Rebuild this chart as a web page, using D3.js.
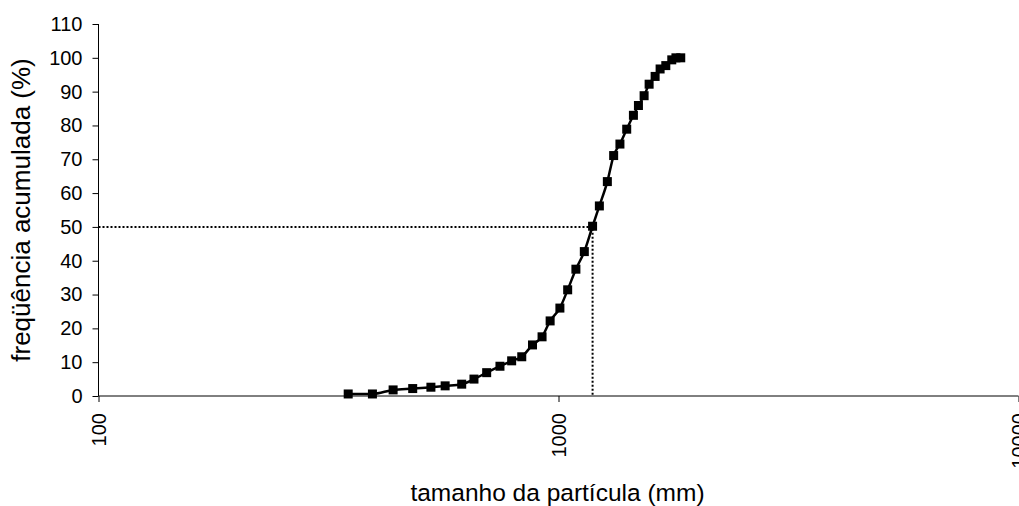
<!DOCTYPE html>
<html>
<head>
<meta charset="utf-8">
<script src="https://cdn.jsdelivr.net/npm/d3@7"></script>
<style>
  html, body { margin: 0; padding: 0; background: #fff; }
  svg { display: block; font-family: "Liberation Sans", Arial, sans-serif; }
</style>
</head>
<body>
<svg id="chart" width="1019" height="506"></svg>
<script>
// Particle size (mm) and cumulative frequency (%)
const sizes = [349, 394, 437, 482, 528, 567, 616, 655, 698, 746, 791, 832, 878, 921, 959,
  1007, 1047, 1091, 1138, 1186, 1227, 1277, 1318, 1360, 1407, 1455, 1492, 1535, 1574,
  1622, 1663, 1711, 1763, 1800, 1844];
const cumFreq = [0.6, 0.6, 1.8, 2.2, 2.6, 3.0, 3.5, 5.0, 6.9, 8.8, 10.4, 11.6, 15.1, 17.5, 22.2,
  26.0, 31.4, 37.5, 42.7, 50.2, 56.2, 63.4, 71.1, 74.5, 78.9, 83.0, 85.9, 88.8, 92.2,
  94.5, 96.7, 97.7, 99.4, 100, 100];
// Median size (D50) reference
const medianSize = [1186];
const medianFreq = [50];
const xTicks = [100, 1000, 10000];
const yTicks = [0, 10, 20, 30, 40, 50, 60, 70, 80, 90, 100, 110];
const xTitle = "tamanho da partícula (mm)";
const yTitle = "freqüência acumulada (%)";

const svg = d3.select("#chart");
const plotLeft = 98.5, plotRight = 1018.5, plotTop = 24, plotBottom = 396;

const x = d3.scaleLog().domain([100, 10000]).range([plotLeft, plotRight]);
const y = d3.scaleLinear().domain([0, 110]).range([plotBottom, plotTop]);

// Y axis
const yAxis = svg.append("g")
  .attr("transform", `translate(${plotLeft},0)`)
  .call(d3.axisLeft(y).tickValues(yTicks).tickSize(6).tickPadding(10).tickFormat(d3.format("d")));
yAxis.selectAll("text").attr("font-size", 20).attr("fill", "#000").attr("font-family", "Liberation Sans, Arial, sans-serif");
yAxis.selectAll("line, path").attr("stroke", "#000").attr("stroke-width", 1);
yAxis.select("path.domain").attr("d", `M0,${plotTop}V${plotBottom}`);

// X axis
const xAxis = svg.append("g")
  .attr("transform", `translate(0,${plotBottom})`)
  .call(d3.axisBottom(x).tickValues(xTicks).tickSize(6).tickFormat(d3.format("d")));
xAxis.selectAll("line, path").attr("stroke", "#000").attr("stroke-width", 1);
xAxis.select("path.domain").attr("d", `M${plotLeft},0H${plotRight}`);
xAxis.selectAll("text")
  .attr("font-size", 20).attr("fill", "#000").attr("font-family", "Liberation Sans, Arial, sans-serif")
  .attr("transform", "rotate(-90)")
  .attr("text-anchor", "end")
  .attr("x", -17).attr("y", 0).attr("dy", "0.35em");

// Median reference lines
svg.append("path")
  .attr("d", `M${x(100)},${y(medianFreq[0])}H${x(medianSize[0])}V${y(0)}`)
  .attr("fill", "none").attr("stroke", "#000").attr("stroke-width", 2)
  .attr("stroke-dasharray", "2,2");

// Curve
const pts = sizes.map((s, i) => [s, cumFreq[i]]);
svg.append("path")
  .datum(pts)
  .attr("d", d3.line().x(d => x(d[0])).y(d => y(d[1])).curve(d3.curveMonotoneX))
  .attr("fill", "none").attr("stroke", "#000").attr("stroke-width", 2.5);

// Square markers
const m = 9;
svg.append("g").selectAll("rect").data(pts).join("rect")
  .attr("x", d => x(d[0]) - m / 2).attr("y", d => y(d[1]) - m / 2)
  .attr("width", m).attr("height", m).attr("fill", "#000");

// Axis titles
svg.append("text")
  .attr("x", (plotLeft + plotRight) / 2 - 1).attr("y", 501)
  .attr("text-anchor", "middle").attr("font-size", 24.5).attr("fill", "#000")
  .text(xTitle);
svg.append("text")
  .attr("transform", `translate(30,${(plotTop + plotBottom) / 2}) rotate(-90)`)
  .attr("text-anchor", "middle").attr("font-size", 26).attr("fill", "#000")
  .text(yTitle);
</script>
</body>
</html>
